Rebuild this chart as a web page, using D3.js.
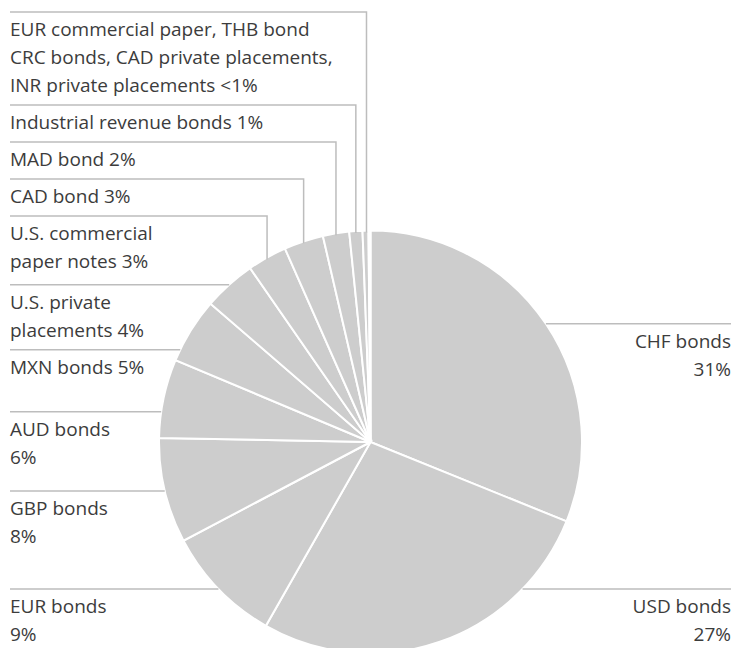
<!DOCTYPE html>
<html>
<head>
<meta charset="utf-8">
<script src="https://cdn.jsdelivr.net/npm/d3@7"></script>
<style>
  body { margin: 0; background: #fff; }
  text { font-family: "Open Sans", sans-serif; font-size: 19px; fill: #3c3c3c; }
</style>
</head>
<body>
<div id="chart"></div>
<script>
// shares of financial debt by instrument (%)
var categories = ["CHF bonds", "USD bonds", "EUR bonds", "GBP bonds", "AUD bonds", "MXN bonds",
    "U.S. private placements", "U.S. commercial paper notes", "CAD bond", "MAD bond",
    "Industrial revenue bonds", "EUR commercial paper, THB bond",
    "CRC bonds, CAD private placements, INR private placements"];
var values = [31, 27, 9, 8, 6, 5, 4, 3, 3, 2, 1, 0.45, 0.15];

// one label per group; the last two slices share one label
var labelGroup = [0, 1, 2, 3, 4, 5, 6, 7, 8, 9, 10, 11, 11];
var labelText = [
    ["CHF bonds", "31%"],
    ["USD bonds", "27%"],
    ["EUR bonds", "9%"],
    ["GBP bonds", "8%"],
    ["AUD bonds", "6%"],
    ["MXN bonds 5%"],
    ["U.S. private", "placements 4%"],
    ["U.S. commercial", "paper notes 3%"],
    ["CAD bond 3%"],
    ["MAD bond 2%"],
    ["Industrial revenue bonds 1%"],
    ["EUR commercial paper, THB bond", "CRC bonds, CAD private placements,", "INR private placements <1%"]
];

function init() {
    var w = 735, h = 648;
    var cx = 370.5, cy = 442, radius = 211.5;
    var lineH = 28, textLeft = 10, textRight = 731;
    var maxY = h - 59;

    var svg = d3.select("#chart").append("svg")
        .attr("width", w).attr("height", h);

    var pie = d3.pie().sort(null).value(function (d) { return d; });
    var arcs = pie(values);

    var arc = d3.arc().innerRadius(0).outerRadius(radius);

    var g = svg.append("g").attr("transform", "translate(" + cx + "," + cy + ")");
    g.selectAll("path")
        .data(arcs)
        .enter()
        .append("path")
        .attr("d", arc)
        .attr("fill", "#cdcdcd")
        .attr("stroke", "#fff")
        .attr("stroke-width", 2);

    // label groups with mid angle
    var groups = labelText.map(function (lines, i) {
        var parts = arcs.filter(function (a, j) { return labelGroup[j] === i; });
        var a0 = d3.min(parts, function (p) { return p.startAngle; });
        var a1 = d3.max(parts, function (p) { return p.endAngle; });
        var a = (a0 + a1) / 2;
        return {
            lines: lines, angle: a,
            px: cx + radius * Math.sin(a),
            py: cy - radius * Math.cos(a)
        };
    });

    function edgeX(y, side) {
        var dy = y - cy;
        var dx = Math.sqrt(Math.max(0, radius * radius - dy * dy));
        return side < 0 ? cx - dx : cx + dx;
    }

    var topLimit = 2 * Math.PI - 35 * Math.PI / 180;
    var right = groups.filter(function (d) { return d.angle < Math.PI; })
        .sort(function (a, b) { return a.angle - b.angle; });
    var left = groups.filter(function (d) { return d.angle >= Math.PI; })
        .sort(function (a, b) { return b.angle - a.angle; });

    // left side: stacked from the top, then following the arc
    var prev = null;
    left.forEach(function (d) {
        if (d.angle > topLimit) {
            d.y = prev ? prev.y + prev.lines.length * 28 + 9 : 12;
            d.top = true;
        } else {
            var min = prev ? prev.y + Math.max(prev.lines.length * 28 + 9, 62) : 0;
            d.y = Math.min(Math.max(d.py, min), maxY);
        }
        d.side = -1;
        prev = d;
    });
    prev = null;
    right.forEach(function (d) {
        var min = prev ? prev.y + Math.max(prev.lines.length * 28 + 9, 62) : 0;
        d.y = Math.min(Math.max(d.py, min), maxY);
        d.side = 1;
        prev = d;
    });

    var all = left.concat(right);

    svg.selectAll("path.leader")
        .data(all)
        .enter()
        .append("path")
        .attr("class", "leader")
        .attr("fill", "none")
        .attr("stroke", "#bdbdbd")
        .attr("stroke-width", 1.5)
        .attr("d", function (d) {
            if (d.top) {
                return "M" + textLeft + "," + d.y + "H" + d.px + "V" + (d.py + 2);
            }
            if (d.side < 0) {
                return "M" + textLeft + "," + d.y + "H" + edgeX(d.y, -1);
            }
            return "M" + edgeX(d.y, 1) + "," + d.y + "H" + textRight;
        });

    var labels = svg.selectAll("text.label")
        .data(all)
        .enter()
        .append("text")
        .attr("class", "label")
        .attr("text-anchor", function (d) { return d.side < 0 ? "start" : "end"; });

    labels.selectAll("tspan")
        .data(function (d) {
            return d.lines.map(function (t, i) { return { t: t, i: i, d: d }; });
        })
        .enter()
        .append("tspan")
        .attr("x", function (e) { return e.d.side < 0 ? textLeft : textRight; })
        .attr("y", function (e) { return e.d.y + 24 + e.i * lineH; })
        .text(function (e) { return e.t; });
}

init();
</script>
</body>
</html>
